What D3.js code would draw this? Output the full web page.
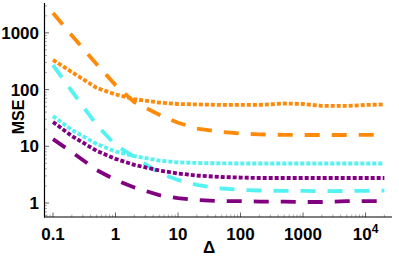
<!DOCTYPE html>
<html><head><meta charset="utf-8">
<script src="https://cdn.jsdelivr.net/npm/d3@7"></script>
<style>html,body{margin:0;padding:0;background:#fff;}svg{display:block;}</style>
</head><body>
<svg id="c" width="399" height="256"></svg>
<script>
const deltas = [0.1, 0.2, 0.5, 1, 2, 5, 10, 20, 50, 100, 200, 500, 1000, 2000, 5000, 10000, 20000];
const orangeDashed = [2240, 900, 280, 120, 60, 36, 26, 20.6, 17.9, 16.8, 16.2, 15.9, 15.8, 15.8, 15.8, 15.9, 15.8];
const orangeDotted = [333, 204, 107, 82, 68, 59, 55.7, 54.8, 53.6, 53.6, 53.6, 56.9, 55.7, 51.4, 51.4, 53.6, 54.8];
const cyanDashed = [270, 94, 23.8, 10.5, 6.5, 3.38, 2.55, 2.08, 1.80, 1.70, 1.66, 1.63, 1.63, 1.62, 1.63, 1.64, 1.65];
const cyanDotted = [34, 19.4, 11, 8.1, 6.7, 5.6, 5.2, 5.08, 5.0, 4.97, 4.97, 4.97, 4.97, 4.97, 4.97, 4.97, 4.97];
const purpleDotted = [26.8, 15.2, 8.3, 6.0, 4.7, 3.74, 3.31, 3.05, 2.87, 2.81, 2.76, 2.76, 2.76, 2.76, 2.76, 2.76, 2.76];
const purpleDashed = [13.4, 7.9, 3.8, 2.55, 1.88, 1.38, 1.22, 1.13, 1.08, 1.08, 1.06, 1.06, 1.04, 1.04, 1.08, 1.08, 1.08];
const xTicks = [0.1, 1, 10, 100, 1000, 10000];
const xTickLabels = ["0.1", "1", "10", "100", "1000", "10^4"];
const yTicks = [1, 10, 100, 1000];
const yTickLabels = ["1", "10", "100", "1000"];

const series = [
  {v: orangeDashed, color: "#FF8A0A", dash: "15,12"},
  {v: orangeDotted, color: "#FF8A0A", dash: "4,2"},
  {v: cyanDashed, color: "#55F2F2", dash: "15,12"},
  {v: cyanDotted, color: "#55F2F2", dash: "4,2"},
  {v: purpleDotted, color: "#800080", dash: "4,2"},
  {v: purpleDashed, color: "#800080", dash: "15,12"}
];

const svg = d3.select("#c");
const x = d3.scaleLog().domain([0.0731, 26500]).range([44.5, 392]);
const y = d3.scaleLog().domain([0.566, 3365]).range([217, 3]);
const font = "'Liberation Sans', Arial, sans-serif";

// minor ticks
const xMinor = [], yMinor = [];
for (let e = -2; e <= 4; e++) for (let m = 2; m <= 9; m++) {
  const v = m * Math.pow(10, e);
  if (v > x.domain()[0] && v < x.domain()[1]) xMinor.push(v);
  if (v > y.domain()[0] && v < y.domain()[1]) yMinor.push(v);
}
const g = svg.append("g");
g.selectAll(".xm").data(xMinor).enter().append("line")
  .attr("x1", d => x(d)).attr("x2", d => x(d)).attr("y1", 217).attr("y2", 214.5)
  .attr("stroke", "#999").attr("stroke-width", 0.8);
g.selectAll(".ym").data(yMinor).enter().append("line")
  .attr("y1", d => y(d)).attr("y2", d => y(d)).attr("x1", 44.5).attr("x2", 47)
  .attr("stroke", "#999").attr("stroke-width", 0.8);
g.selectAll(".xM").data(xTicks).enter().append("line")
  .attr("x1", d => x(d)).attr("x2", d => x(d)).attr("y1", 217).attr("y2", 212.5)
  .attr("stroke", "#666").attr("stroke-width", 1);
g.selectAll(".yM").data(yTicks).enter().append("line")
  .attr("y1", d => y(d)).attr("y2", d => y(d)).attr("x1", 44.5).attr("x2", 49)
  .attr("stroke", "#666").attr("stroke-width", 1);

// lines
const line = d3.line().x((d, i) => x(deltas[i])).y(d => y(d));
series.forEach(s => {
  svg.append("path").datum(s.v).attr("d", line)
    .attr("fill", "none").attr("stroke", s.color).attr("stroke-width", 3.8)
    .attr("stroke-dasharray", s.dash);
});

// axes lines
svg.append("line").attr("x1", 44.5).attr("x2", 44.5).attr("y1", 3).attr("y2", 217.5)
  .attr("stroke", "#000").attr("stroke-width", 1.2);
svg.append("line").attr("x1", 44).attr("x2", 392).attr("y1", 217).attr("y2", 217)
  .attr("stroke", "#000").attr("stroke-width", 1.2);

// tick labels
xTicks.forEach((t, i) => {
  const lab = xTickLabels[i];
  const txt = svg.append("text").attr("x", x(t)).attr("y", 240)
    .attr("text-anchor", "middle").attr("font-family", font).attr("font-weight", "bold")
    .attr("font-size", 17);
  if (lab.indexOf("^") >= 0) {
    const [b, e] = lab.split("^");
    txt.append("tspan").text(b);
    txt.append("tspan").text(e).attr("font-size", 12).attr("dy", -7);
  } else txt.text(lab);
});
yTicks.forEach((t, i) => {
  svg.append("text").attr("x", 39).attr("y", y(t) + 6)
    .attr("text-anchor", "end").attr("font-family", font).attr("font-weight", "bold")
    .attr("font-size", 17).text(yTickLabels[i]);
});

svg.append("text").attr("x", 209).attr("y", 253).attr("text-anchor", "middle")
  .attr("font-family", font).attr("font-weight", "bold").attr("font-size", 17).text("Δ");
svg.append("text").attr("transform", "translate(24,117) rotate(-90)").attr("text-anchor", "middle")
  .attr("font-family", font).attr("font-weight", "bold").attr("font-size", 16).text("MSE");
</script>
</body></html>
